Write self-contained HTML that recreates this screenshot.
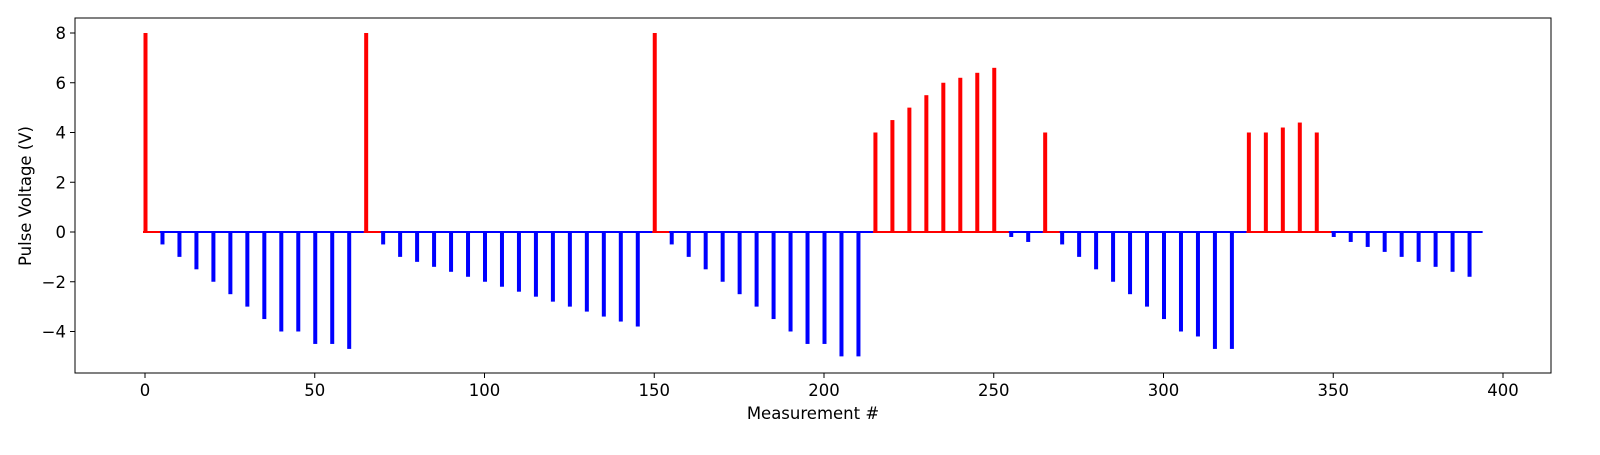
<!DOCTYPE html>
<html><head><meta charset="utf-8"><style>
body{margin:0;background:#fff;}
svg text{font-family:"DejaVu Sans","Liberation Sans",sans-serif;font-size:16.5px;fill:#000;}
</style></head><body>
<svg id="chart" width="1600" height="450">
<rect x="75" y="18" width="1476" height="355" fill="#fff" stroke="#000" stroke-width="1"/>
<g id="marks"></g><g id="axes"></g>
<text x="813" y="419" text-anchor="middle">Measurement #</text>
<text transform="translate(31,196) rotate(-90)" text-anchor="middle">Pulse Voltage (V)</text>
</svg>
<script>
const positions=[0,5,10,15,20,25,30,35,40,45,50,55,60,65,70,75,80,85,90,95,100,105,110,115,120,125,130,135,140,145,150,155,160,165,170,175,180,185,190,195,200,205,210,215,220,225,230,235,240,245,250,255,260,265,270,275,280,285,290,295,300,305,310,315,320,325,330,335,340,345,350,355,360,365,370,375,380,385,390];
const voltages=[8,-0.5,-1,-1.5,-2,-2.5,-3,-3.5,-4,-4,-4.5,-4.5,-4.7,8,-0.5,-1,-1.2,-1.4,-1.6,-1.8,-2,-2.2,-2.4,-2.6,-2.8,-3,-3.2,-3.4,-3.6,-3.8,8,-0.5,-1,-1.5,-2,-2.5,-3,-3.5,-4,-4.5,-4.5,-5,-5,4,4.5,5,5.5,6,6.2,6.4,6.6,-0.2,-0.4,4,-0.5,-1,-1.5,-2,-2.5,-3,-3.5,-4,-4.2,-4.7,-4.7,4,4,4.2,4.4,4,-0.2,-0.4,-0.6,-0.8,-1,-1.2,-1.4,-1.6,-1.8];
const xTicks=[0,50,100,150,200,250,300,350,400];
const yTicks=[-4,-2,0,2,4,6,8];
const endX=394;
const ns="http://www.w3.org/2000/svg";
const xs=v=>145+v*3.395;
const ys=v=>232-v*24.875;
const marks=document.getElementById('marks'),axes=document.getElementById('axes');
function mk(t,a,p){const e=document.createElementNS(ns,t);for(const k in a)e.setAttribute(k,a[k]);p.appendChild(e);return e;}
positions.forEach((p,i)=>{
  const v=voltages[i],c=v>0?'#ff0000':'#0000ff';
  const nx=i<positions.length-1?positions[i+1]:endX;
  const seg=mk('line',{x1:xs(p)-2,x2:xs(nx),y1:ys(0),y2:ys(0),stroke:c,'stroke-width':2},marks);
  
  
  const y0=ys(0),y1=ys(v);
  const r=mk('rect',{x:xs(p)-1.5,y:Math.min(y0,y1),width:4,height:Math.abs(y1-y0),fill:c},marks);
  
  
});
xTicks.forEach(t=>{
  mk('line',{x1:xs(t),x2:xs(t),y1:373,y2:378,stroke:'#000'},axes);
  const tx=mk('text',{x:xs(t),y:396,'text-anchor':'middle'},axes);tx.textContent=t;
  
  
});
yTicks.forEach(t=>{
  mk('line',{x1:70,x2:75,y1:ys(t),y2:ys(t),stroke:'#000'},axes);
  const tx=mk('text',{x:66,y:ys(t)+6,'text-anchor':'end'},axes);tx.textContent=t<0?'\u2212'+(-t):t;
  
  
});
</script>
</body></html>
